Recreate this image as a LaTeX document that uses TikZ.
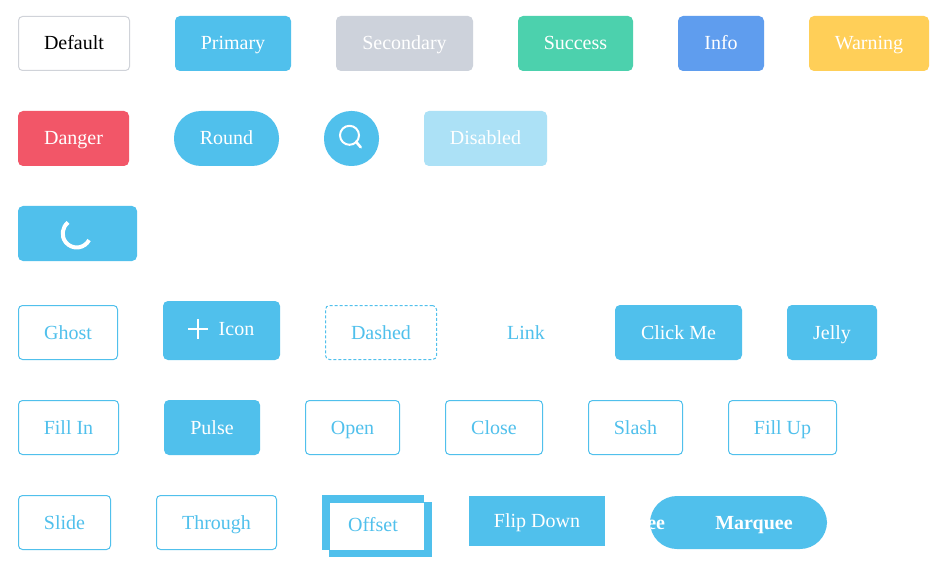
\documentclass[tikz,border=0pt]{standalone}
\usepackage{fontspec}
\setmainfont{Liberation Serif}
\definecolor{blu}{HTML}{50C0EC}
\definecolor{sec}{HTML}{CDD2DB}
\definecolor{suc}{HTML}{4CD1AD}
\definecolor{inf}{HTML}{5F9DEE}
\definecolor{war}{HTML}{FFCF58}
\definecolor{dan}{HTML}{F25668}
\definecolor{dis}{HTML}{ACE1F6}
\definecolor{gry}{HTML}{D0D3D9}
\tikzset{
  base/.style={rectangle,inner sep=0pt,outer sep=0pt,align=center,text height=17pt,text depth=4pt,font=\fontsize{20}{24}\selectfont},
  solid fill/.style={base,fill=#1,text=white,rounded corners=5pt},
  outline/.style={base,draw=blu,line width=1pt,text=blu,rounded corners=4pt},
  pill/.style={base,fill=blu,text=white,rounded corners=27pt},
  square/.style={base,fill=blu,text=white},
  mark stroke/.style={draw=white,line cap=round}
}
\newcommand\btn[7]{%
  \pgfmathsetmacro\cx{(#2+#4)/2}%
  \pgfmathsetmacro\cy{582-(#3+#5)/2}%
  \pgfmathsetmacro\bw{#4-#2}%
  \pgfmathsetmacro\bh{#5-#3}%
  \node[#6,minimum width=\bw pt,minimum height=\bh pt] (#1) at (\cx pt,\cy pt) {#7};}
\begin{document}
\begin{tikzpicture}[x=1pt,y=1pt]
\useasboundingbox (0,0) rectangle (942,582);
\fill[white] (0,0) rectangle (942,582);
% row 1
\btn{default}{18.5}{16.5}{129.5}{70.5}{outline,draw=gry,text=black}{Default}
\btn{primary}{175}{16}{291}{71}{solid fill=blu}{Primary}
\btn{secondary}{336}{16}{473}{71}{solid fill=sec}{Secondary}
\btn{success}{518}{16}{633}{71}{solid fill=suc}{Success}
\btn{info}{678}{16}{764}{71}{solid fill=inf}{Info}
\btn{warning}{809}{16}{929}{71}{solid fill=war}{Warning}
% row 2
\btn{danger}{18}{111}{129}{166}{solid fill=dan}{Danger}
\btn{round}{174}{111}{279}{166}{pill}{Round}
\btn{search}{324}{111}{379}{166}{pill}{}
\draw[mark stroke,line width=2pt] (349.5,446.7) circle (9.5);
\draw[mark stroke,line width=2.6pt] (356,440.3) -- (360.7,434.7);
\btn{disabled}{424}{111}{547}{166}{solid fill=dis}{Disabled}
% row 3
\btn{loading}{18}{206}{137}{261}{solid fill=blu}{}
\draw[draw=white,line width=4pt] (76.7,348.5) ++(128:14) arc (128:332:14);
% row 4
\btn{ghost}{18.5}{305.5}{117.5}{359.5}{outline}{Ghost}
\btn{icon}{163}{301}{280}{360}{solid fill=blu}{\hspace{30pt}\raisebox{1.5pt}{Icon}}
\draw[draw=white,line width=2.4pt] (188,253) -- (208,253) (198,243) -- (198,263);
\btn{dashed}{325.5}{305.5}{436.5}{359.5}{outline,dash pattern=on 3pt off 2pt}{Dashed}
\btn{link}{482}{305}{570}{360}{base,text=blu}{Link}
\btn{click}{615}{305}{742}{360}{solid fill=blu}{Click Me}
\btn{jelly}{787}{305}{877}{360}{solid fill=blu}{Jelly}
% row 5
\btn{fillin}{18.5}{400.5}{118.5}{454.5}{outline}{Fill In}
\btn{pulse}{164}{400}{260}{455}{solid fill=blu}{Pulse}
\btn{open}{305.5}{400.5}{399.5}{454.5}{outline}{Open}
\btn{close}{445.5}{400.5}{542.5}{454.5}{outline}{Close}
\btn{slash}{588.5}{400.5}{682.5}{454.5}{outline}{Slash}
\btn{fillup}{728.5}{400.5}{836.5}{454.5}{outline}{Fill Up}
% row 6
\btn{slide}{18.5}{495.5}{110.5}{549.5}{outline}{Slide}
\btn{through}{156.5}{495.5}{276.5}{549.5}{outline}{Through}
\btn{offsetb}{322}{495}{424}{550}{square}{}
\btn{offsetc}{329}{502}{432}{557}{square}{}
\btn{offset}{330}{503}{424}{550}{base,fill=white,text=blu}{\hspace{-8pt}\raisebox{2pt}{Offset}}
\btn{flip}{469}{496}{605}{546}{square}{Flip Down}
\btn{marquee}{650}{496}{827}{549}{pill}{}
\begin{scope}
\clip[rounded corners=26.5pt] (650,33) rectangle (827,86);
\node[base,text=white,font=\fontsize{20}{24}\selectfont\bfseries,anchor=east] (marqueeb) at (665,59.5) {ee};
\end{scope}
\node[base,text=white,font=\fontsize{20}{24}\selectfont\bfseries] (marqueea) at (754,59.5) {Marquee};
\end{tikzpicture}
\end{document}
